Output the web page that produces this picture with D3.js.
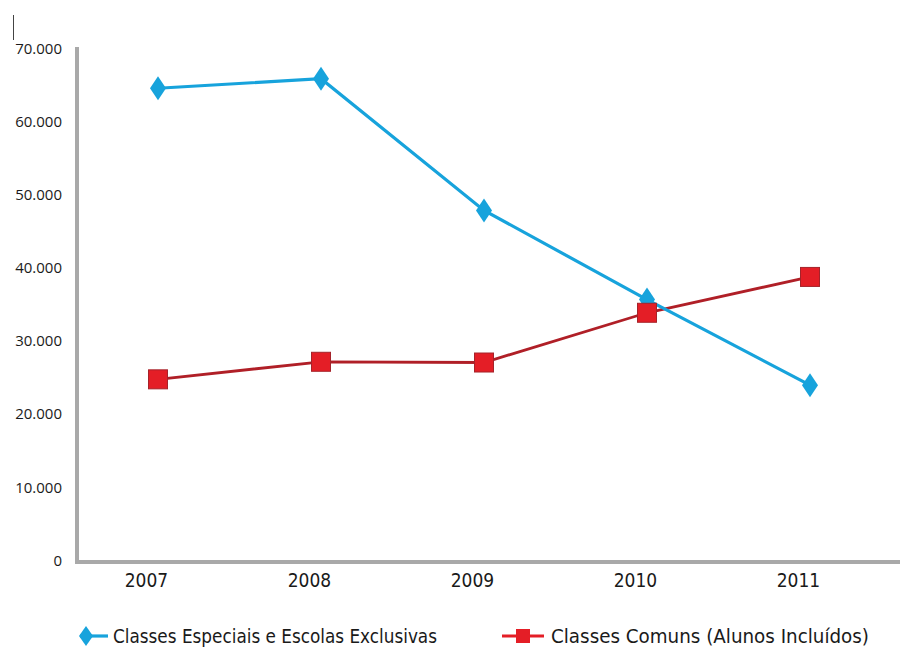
<!DOCTYPE html>
<html>
<head>
<meta charset="utf-8">
<script src="https://cdn.jsdelivr.net/npm/d3@7"></script>
<style>
  body { margin: 0; background: #fff; }
  svg { display: block; }
</style>
</head>
<body>
<div id="chart-area"></div>
<script>
const years = [2007, 2008, 2009, 2010, 2011];
const especiais = [64500, 65800, 47800, 35600, 23900];
const comuns = [24700, 27100, 27000, 33800, 38700];
const yTicks = [0, 10000, 20000, 30000, 40000, 50000, 60000, 70000];
const seriesNames = ["Classes Especiais e Escolas Exclusivas", "Classes Comuns (Alunos Incluídos)"];

const W = 900, H = 651;
const blue = "#17a3dc", red = "#e41e26", redLine = "#b01f27", axisGrey = "#a9a9a9";

const svg = d3.select("#chart-area").append("svg").attr("width", W).attr("height", H);

//scales
const x = d3.scaleLinear().domain([2007, 2011]).range([158, 810]);
const y = d3.scaleLinear().domain([0, 70000]).range([560, 48]);

// little stray mark top-left of the original
svg.append("line").attr("x1", 13.5).attr("x2", 13.5).attr("y1", 15).attr("y2", 40)
  .attr("stroke", "#444").attr("stroke-width", 1);

//y axis labels
const yAxis = d3.axisLeft(y).tickValues(yTicks).tickSize(0)
  .tickFormat(d => d === 0 ? "0" : d3.format(",")(d).replace(/,/g, "."));
const gy = svg.append("g").attr("transform", "translate(62,0)").call(yAxis);
gy.select(".domain").remove();
gy.selectAll("text").attr("x", 0).attr("dy", "0.35em")
  .style("font-family", "'Open Sans', sans-serif").style("font-size", "15px").style("fill", "#1a1a1a");

//x axis labels
const xAxis = d3.axisBottom(x).tickValues(years).tickSize(0).tickFormat(d3.format("d"));
const gx = svg.append("g").attr("transform", "translate(0,570)").call(xAxis);
gx.select(".domain").remove();
gx.selectAll("text").attr("dx", -12).attr("y", 0).attr("dy", "0.9em")
  .style("font-family", "'Liberation Sans Narrow', 'DejaVu Sans Condensed', sans-serif")
  .style("font-size", "19px").style("fill", "#1a1a1a");

//axis lines
svg.append("line").attr("x1", 77).attr("x2", 77).attr("y1", 47).attr("y2", 564)
  .attr("stroke", axisGrey).attr("stroke-width", 4);
svg.append("line").attr("x1", 75).attr("x2", W).attr("y1", 562).attr("y2", 562)
  .attr("stroke", axisGrey).attr("stroke-width", 4);

const line = d3.line().x((d, i) => x(years[i])).y(d => y(d));
const diamond = "M0,-12L8,0L0,12L-8,0Z";

//red series
svg.append("path").datum(comuns).attr("d", line)
  .attr("fill", "none").attr("stroke", redLine).attr("stroke-width", 2.8);

//blue series
svg.append("path").datum(especiais).attr("d", line)
  .attr("fill", "none").attr("stroke", blue).attr("stroke-width", 3.2);
svg.selectAll(".dia").data(especiais).enter().append("path")
  .attr("class", "dia")
  .attr("d", diamond)
  .attr("transform", (d, i) => "translate(" + x(years[i]) + "," + y(d) + ")")
  .attr("fill", blue);

svg.selectAll(".sq").data(comuns).enter().append("rect")
  .attr("class", "sq")
  .attr("x", (d, i) => x(years[i]) - 9.5)
  .attr("y", d => y(d) - 9.5)
  .attr("width", 19).attr("height", 19)
  .attr("fill", red).attr("stroke", "#a5232a").attr("stroke-width", 1);

//legend
const leg = svg.append("g").attr("transform", "translate(0,636)");
leg.append("line").attr("x1", 80).attr("x2", 108).attr("y1", 0).attr("y2", 0)
  .attr("stroke", blue).attr("stroke-width", 3.2);
leg.append("path").attr("d", "M0,-10L7,0L0,10L-7,0Z").attr("transform", "translate(86,0)").attr("fill", blue);
leg.append("text").attr("x", 113).attr("y", 0).attr("dy", "0.35em").text(seriesNames[0])
  .attr("textLength", 324).attr("lengthAdjust", "spacingAndGlyphs")
  .style("font-family", "'Liberation Sans Narrow', 'DejaVu Sans Condensed', sans-serif")
  .style("font-size", "20px").style("fill", "#1a1a1a");

leg.append("line").attr("x1", 502).attr("x2", 544).attr("y1", 0).attr("y2", 0)
  .attr("stroke", red).attr("stroke-width", 3);
leg.append("rect").attr("x", 516).attr("y", -7).attr("width", 14).attr("height", 14)
  .attr("fill", red);
leg.append("text").attr("x", 551).attr("y", 0).attr("dy", "0.35em").text(seriesNames[1])
  .attr("textLength", 318).attr("lengthAdjust", "spacingAndGlyphs")
  .style("font-family", "'Liberation Sans Narrow', 'DejaVu Sans Condensed', sans-serif")
  .style("font-size", "20px").style("fill", "#1a1a1a");
</script>
</body>
</html>
